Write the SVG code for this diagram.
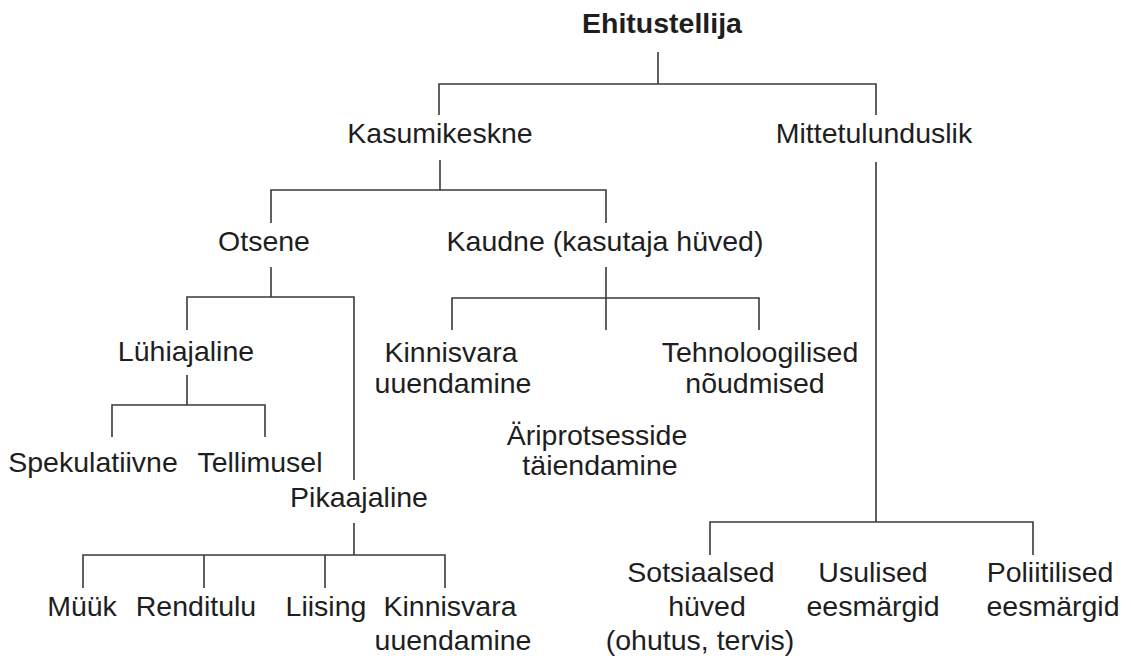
<svg xmlns="http://www.w3.org/2000/svg" width="1131" height="661" viewBox="0 0 1131 661">
<style>
text{font-family:"Liberation Sans",Arial,sans-serif;font-size:28.5px;fill:#1e1e1e;text-anchor:middle}
.b{font-weight:bold}
#edges path{fill:none;stroke:#3a3a3a;stroke-width:1.6}
</style>
<rect width="1131" height="661" fill="#fff"/>
<g id="edges">
<path d="M658 52V84M439 115V84H876V115"/>
<path d="M440 160V190M271 223V190H606V223"/>
<path d="M876 162V522M710 555V522H1033V555"/>
<path d="M271 267V297M187 330V297H354V480"/>
<path d="M606 267V330M452 330V298H759V330"/>
<path d="M187 375V405M112 437V405H265V437"/>
<path d="M354 523V555M83 588V555H445V588M204 555V588M325 555V588"/>
</g>
<g id="n-root"><text class="b" x="662" y="33">Ehitustellija</text></g>
<g id="n-kasum"><text x="440" y="143">Kasumikeskne</text></g>
<g id="n-mitte"><text x="874" y="143">Mittetulunduslik</text></g>
<g id="n-otsene"><text x="264" y="251">Otsene</text></g>
<g id="n-kaudne"><text x="605" y="251">Kaudne (kasutaja hüved)</text></g>
<g id="n-luhi"><text x="186" y="361">Lühiajaline</text></g>
<g id="n-kinn1"><text x="451" y="362">Kinnisvara</text><text x="453" y="393">uuendamine</text></g>
<g id="n-tehno"><text x="760" y="362">Tehnoloogilised</text><text x="755" y="393">nõudmised</text></g>
<g id="n-ari"><text x="597" y="445">Äriprotsesside</text><text x="600" y="475">täiendamine</text></g>
<g id="n-spek"><text x="93" y="472">Spekulatiivne</text></g>
<g id="n-tell"><text x="260" y="472">Tellimusel</text></g>
<g id="n-pika"><text x="359" y="507">Pikaajaline</text></g>
<g id="n-muuk"><text x="82" y="616">Müük</text></g>
<g id="n-rendi"><text x="196" y="616">Renditulu</text></g>
<g id="n-liis"><text x="326" y="616">Liising</text></g>
<g id="n-kinn2"><text x="450" y="616">Kinnisvara</text><text x="453" y="650">uuendamine</text></g>
<g id="n-sots"><text x="701" y="582">Sotsiaalsed</text><text x="707" y="616">hüved</text><text x="700" y="650">(ohutus, tervis)</text></g>
<g id="n-usu"><text x="873" y="582">Usulised</text><text x="873" y="616">eesmärgid</text></g>
<g id="n-poli"><text x="1050" y="582">Poliitilised</text><text x="1053" y="616">eesmärgid</text></g>
</svg>
